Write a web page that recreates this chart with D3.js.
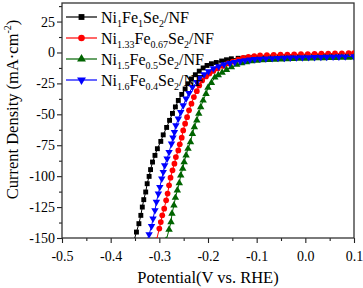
<!DOCTYPE html>
<html>
<head>
<meta charset="utf-8">
<script src="https://cdn.jsdelivr.net/npm/d3@7"></script>
</head>
<body style="margin:0">
<script>
// tick values
const xTicks = [-0.5, -0.4, -0.3, -0.2, -0.1, 0.0, 0.1];
const xMinor = [-0.45, -0.35, -0.25, -0.15, -0.05, 0.05];
const yTicks = [25, 0, -25, -50, -75, -100, -125, -150];
const yMinor = [37.5, 12.5, -12.5, -37.5, -62.5, -87.5, -112.5, -137.5];

// legend labels: [text, isSubscript]
const labels = [
	[['Ni', 0], ['1', 1], ['Fe', 0], ['1', 1], ['Se', 0], ['2', 1], ['/NF', 0]],
	[['Ni', 0], ['1.33', 1], ['Fe', 0], ['0.67', 1], ['Se', 0], ['2', 1], ['/NF', 0]],
	[['Ni', 0], ['1.5', 1], ['Fe', 0], ['0.5', 1], ['Se', 0], ['2', 1], ['/NF', 0]],
	[['Ni', 0], ['1.6', 1], ['Fe', 0], ['0.4', 1], ['Se', 0], ['2', 1], ['/NF', 0]]
];

// potential (V vs RHE) and current density (mA cm-2)
const blackV = [-0.352,-0.347,-0.342,-0.338,-0.335,-0.332,-0.328,-0.325,-0.321,-0.318,-0.314,-0.309,-0.304,-0.297,-0.292,-0.285,-0.279,-0.273,-0.267,-0.261,-0.254,-0.247,-0.241,-0.234,-0.226,-0.218,-0.210,-0.202,-0.193,-0.183,-0.172,-0.162,-0.152,-0.138,-0.124,-0.110,-0.096,-0.082,-0.068,-0.054,-0.040,-0.026,-0.012,0.002,0.016,0.030,0.044,0.058,0.072,0.086,0.100];
const blackJ = [-152,-145.2,-138.4,-131.7,-125.0,-119.0,-112.8,-106.1,-100.2,-94.7,-88.6,-83.2,-77.8,-71.9,-66.6,-60.6,-54.9,-49.3,-44.0,-38.8,-33.9,-29.5,-25.3,-21.4,-18.0,-15.1,-12.5,-10.5,-9.1,-8.1,-6.9,-5.9,-5.1,-4.7,-4.4,-4.2,-4.0,-3.9,-3.8,-3.7,-3.6,-3.5,-3.4,-3.4,-3.3,-3.3,-3.2,-3.2,-3.1,-3.1,-3.0];

const redV = [-0.306,-0.300,-0.297,-0.294,-0.290,-0.286,-0.283,-0.280,-0.277,-0.273,-0.269,-0.266,-0.261,-0.258,-0.254,-0.251,-0.247,-0.243,-0.239,-0.234,-0.229,-0.223,-0.218,-0.212,-0.204,-0.197,-0.189,-0.180,-0.169,-0.159,-0.149,-0.138,-0.128,-0.117,-0.105,-0.093,-0.079,-0.065,-0.051,-0.037,-0.023,-0.009,0.005,0.019,0.033,0.047,0.061,0.075,0.089,0.100];
const redJ = [-152,-142.4,-137.1,-131.7,-126.3,-119.5,-114.1,-107.4,-101.2,-95.3,-89.9,-84.6,-79.2,-74.3,-68.9,-63.0,-57.6,-52.3,-46.8,-41.4,-36.1,-31.3,-26.7,-22.6,-19.4,-17.0,-14.9,-12.9,-10.9,-8.9,-7.3,-5.7,-4.4,-3.6,-3.0,-2.4,-2.2,-2.0,-1.8,-1.7,-1.5,-1.4,-1.3,-1.1,-1.0,-0.9,-0.8,-0.7,-0.6,-0.6];

const greenV = [-0.286,-0.280,-0.276,-0.274,-0.270,-0.267,-0.263,-0.259,-0.256,-0.252,-0.249,-0.245,-0.241,-0.236,-0.232,-0.228,-0.223,-0.219,-0.215,-0.210,-0.204,-0.200,-0.193,-0.186,-0.179,-0.171,-0.162,-0.152,-0.141,-0.131,-0.121,-0.110,-0.100,-0.088,-0.075,-0.063,-0.050,-0.038,-0.025,-0.013,0.000,0.013,0.025,0.038,0.050,0.063,0.075,0.088,0.100];
const greenJ = [-152,-143.2,-137.1,-130.3,-123.6,-117.4,-111.5,-105.6,-99.4,-93.9,-88.6,-83.2,-77.8,-72.5,-65.7,-60.3,-54.9,-49.5,-44.2,-38.8,-33.4,-28.5,-24.5,-20.2,-18.2,-16.2,-14.0,-11.9,-9.9,-8.6,-7.8,-7.0,-6.5,-6.2,-6.0,-5.8,-5.6,-5.4,-5.2,-5.0,-4.9,-4.7,-4.6,-4.5,-4.4,-4.3,-4.2,-4.1,-4.0];

const blueV = [-0.325,-0.321,-0.316,-0.313,-0.309,-0.306,-0.302,-0.299,-0.295,-0.292,-0.289,-0.284,-0.280,-0.275,-0.272,-0.269,-0.266,-0.261,-0.256,-0.251,-0.245,-0.239,-0.232,-0.223,-0.217,-0.208,-0.199,-0.189,-0.178,-0.167,-0.155,-0.145,-0.134,-0.124,-0.114,-0.104,-0.093,-0.081,-0.068,-0.056,-0.043,-0.031,-0.018,-0.006,0.007,0.019,0.032,0.044,0.057,0.069,0.082,0.100];
const blueJ = [-152,-147.0,-140.5,-134.3,-127.6,-120.9,-114.1,-108.8,-102.0,-96.7,-91.3,-85.9,-80.5,-73.7,-68.9,-64.4,-59.0,-53.6,-48.2,-42.8,-37.4,-32.9,-28.0,-24.0,-20.4,-17.8,-15.3,-12.9,-11.3,-9.7,-8.6,-7.8,-7.0,-6.5,-5.9,-5.4,-5.1,-4.9,-4.7,-4.5,-4.4,-4.2,-4.1,-4.0,-3.9,-3.8,-3.7,-3.6,-3.5,-3.4,-3.3,-3.2];

const colors = ['#000000', '#ff0000', '#006400', '#0000ff'];
const shapes = [d3.symbolSquare, d3.symbolCircle, d3.symbolTriangle, d3.symbolTriangle];
const flips = [0, 0, 0, 180];
const serif = "'Liberation Serif'";

const series = [
	d3.zip(blackV, blackJ),
	d3.zip(redV, redJ),
	d3.zip(greenV, greenJ),
	d3.zip(blueV, blueJ)
];

let margin = { left: 62, right: 9, top: 3, bottom: 50 };
let width = 363 - margin.left - margin.right;
let height = 288 - margin.top - margin.bottom;

const svg = d3.select('body').append('svg')
	.attr('width', 363)
	.attr('height', 288)
	.style('font-family', 'Liberation Serif');

let g = svg.append('g')
	.attr('transform', 'translate(' + margin.left + ', ' + margin.top + ')');

let x = d3.scaleLinear().domain([-0.5, 0.1]).range([0, width]);
let y = d3.scaleLinear().domain([-150, 40]).range([height, 0]);

g.append('clipPath').attr('id', 'clip')
	.append('rect').attr('width', width).attr('height', height);

// axes
let xAxisG = g.append('g')
	.attr('transform', 'translate(0, ' + height + ')')
	.call(d3.axisBottom(x).tickValues(xTicks).tickSize(5).tickSizeOuter(0)
		.tickFormat(d => d.toFixed(1)));
xAxisG.select('.domain').remove();
xAxisG.attr('font-family', serif).attr('font-size', 14);
xAxisG.selectAll('text')
	.attr('fill', '#000')
	.attr('dy', '1.05em');

let xMinorG = g.append('g')
	.attr('transform', 'translate(0, ' + height + ')')
	.call(d3.axisBottom(x).tickValues(xMinor).tickSize(3).tickFormat(''));
xMinorG.select('.domain').remove();

let yAxisG = g.append('g')
	.call(d3.axisLeft(y).tickValues(yTicks).tickSize(5).tickSizeOuter(0)
		.tickFormat(d => String(d)));
yAxisG.select('.domain').remove();
yAxisG.attr('font-family', serif).attr('font-size', 14);
yAxisG.selectAll('text')
	.attr('fill', '#000')
	.attr('x', -7);

let yMinorG = g.append('g')
	.call(d3.axisLeft(y).tickValues(yMinor).tickSize(3).tickFormat(''));
yMinorG.select('.domain').remove();

g.selectAll('.tick line').attr('stroke', '#222').attr('stroke-width', 1.1);

// frame
g.append('rect')
	.attr('width', width)
	.attr('height', height)
	.attr('fill', 'none')
	.attr('stroke', '#333')
	.attr('stroke-width', 1.3);

// curves
let line = d3.line()
	.x(d => x(d[0]))
	.y(d => y(d[1]));

let plot = g.append('g').attr('clip-path', 'url(#clip)');

series.forEach((data, i) => {
	plot.append('path')
		.datum(data)
		.attr('d', line)
		.attr('fill', 'none')
		.attr('stroke', colors[i])
		.attr('stroke-width', 1);

	plot.selectAll('.m' + i)
		.data(data)
		.enter()
		.append('path')
			.attr('class', 'm' + i)
			.attr('d', d3.symbol().type(shapes[i]).size(i == 1 ? 26 : 24))
			.attr('transform', d => 'translate(' + x(d[0]) + ',' + y(d[1]) + ') rotate(' + flips[i] + ')')
			.attr('fill', colors[i]);
});

// legend
let legend = g.append('g').attr('transform', 'translate(4, 14)');
labels.forEach((lab, i) => {
	let row = legend.append('g').attr('transform', 'translate(0, ' + (i * 21) + ')');
	row.append('line')
		.attr('x1', 0).attr('x2', 31)
		.attr('stroke', colors[i]).attr('stroke-width', 1.2);
	row.append('path')
		.attr('d', d3.symbol().type(shapes[i]).size(34))
		.attr('transform', 'translate(15.5,0) rotate(' + flips[i] + ')')
		.attr('fill', colors[i]);
	let t = row.append('text')
		.attr('x', 35)
		.attr('y', 5.5)
		.attr('font-family', serif)
		.attr('font-size', 16);
	let shifted = false;
	lab.forEach(p => {
		let s = t.append('tspan').text(p[0]);
		if (p[1]) {
			s.attr('font-size', 10).attr('dy', shifted ? 0 : 4);
			shifted = true;
		} else if (shifted) {
			s.attr('dy', -4);
			shifted = false;
		}
	});
});

// x label
g.append('text')
	.attr('x', width / 2)
	.attr('y', height + 45)
	.attr('font-family', serif)
	.attr('font-size', 16.5)
	.attr('text-anchor', 'middle')
	.text('Potential(V vs. RHE)');

// y label
let yl = g.append('text')
	.attr('x', -(height / 2) + 11)
	.attr('y', -44)
	.attr('font-family', serif)
	.attr('font-size', 16.5)
	.attr('text-anchor', 'middle')
	.attr('transform', 'rotate(-90)');
yl.append('tspan').text('Current Density (mA\u00b7cm');
yl.append('tspan').attr('font-size', 10).attr('dy', -7).text('-2');
yl.append('tspan').attr('dy', 7).text(')');
</script>
</body>
</html>
